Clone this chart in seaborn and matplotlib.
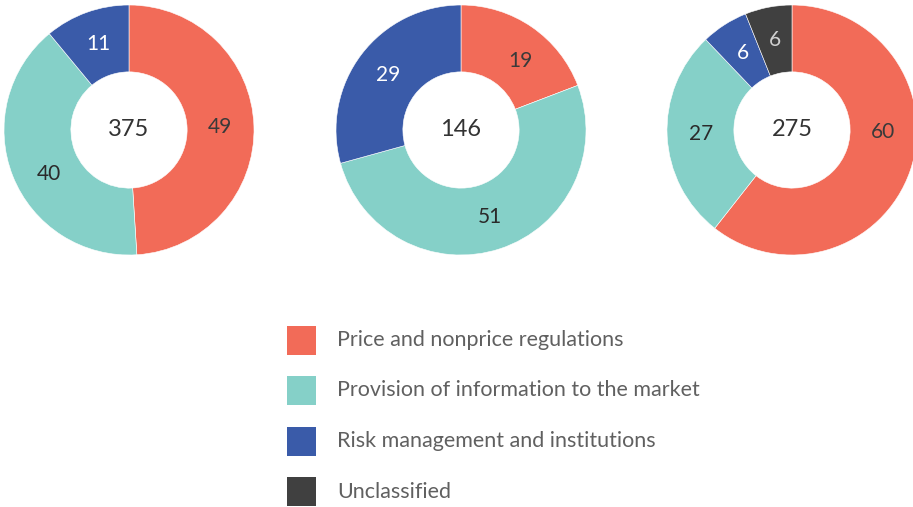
import matplotlib
matplotlib.use("Agg")
import matplotlib.pyplot as plt
import seaborn as sns
import numpy as np
from matplotlib.patches import Rectangle

sns.set_theme(style="white")
plt.rcParams['font.family'] = ['Lato', 'DejaVu Sans']

# data
categories = ["Price and nonprice regulations",
              "Provision of information to the market",
              "Risk management and institutions",
              "Unclassified"]
totals = [375, 146, 275]
shares_1 = [49, 40, 11]
shares_2 = [19, 51, 29]
shares_3 = [60, 27, 6, 6]

colors = ["#F26B58", "#85D0C8", "#3A5BA9", "#404040"]
label_colors = ["#3a3a3a", "#2a2a2a", "white", "#d0d0d0"]

W, H = 913, 507
fig = plt.figure(figsize=(W / 100, H / 100), dpi=100)

# donut centres in pixels
centres = [(129, 130), (461, 130), (792, 130)]
R = 125
# small label angle nudges (degrees) per donut, as in the original layout
nudges = [[0, 7, 0], [-6, 0, 0], [18, 0, 0, 0]]

for (cx, cy), shares, total, nud in zip(centres, [shares_1, shares_2, shares_3], totals, nudges):
    ax = fig.add_axes([(cx - R) / W, (H - cy - R) / H, 2 * R / W, 2 * R / H])
    wedges, texts = ax.pie(
        shares,
        colors=colors[:len(shares)],
        startangle=90,
        counterclock=False,
        radius=1,
        wedgeprops=dict(width=0.535, edgecolor='white', linewidth=0.4),
    )
    for i, w in enumerate(wedges):
        ang = np.deg2rad((w.theta1 + w.theta2) / 2 + nud[i])
        ax.text(0.73 * np.cos(ang), 0.73 * np.sin(ang), str(shares[i]),
                ha='center', va='center', fontsize=15, color=label_colors[i])
    ax.text(0, 0, str(total), ha='center', va='center', fontsize=17, color='#333333')
    ax.set_xlim(-1, 1)
    ax.set_ylim(-1, 1)
    ax.set_aspect('equal')
    ax.axis('off')

# legend
lax = fig.add_axes([0, 0, 1, 1])
lax.set_xlim(0, W)
lax.set_ylim(H, 0)
lax.axis('off')
for i, (cat, col) in enumerate(zip(categories, colors)):
    yc = 340 + i * 50.5
    lax.add_patch(Rectangle((287, yc - 14.5), 29, 29, facecolor=col, edgecolor='none'))
    lax.text(337, yc, cat, ha='left', va='center', fontsize=15.5,
             fontweight='normal', color='#606060')

fig.savefig("out.png", dpi=100)
